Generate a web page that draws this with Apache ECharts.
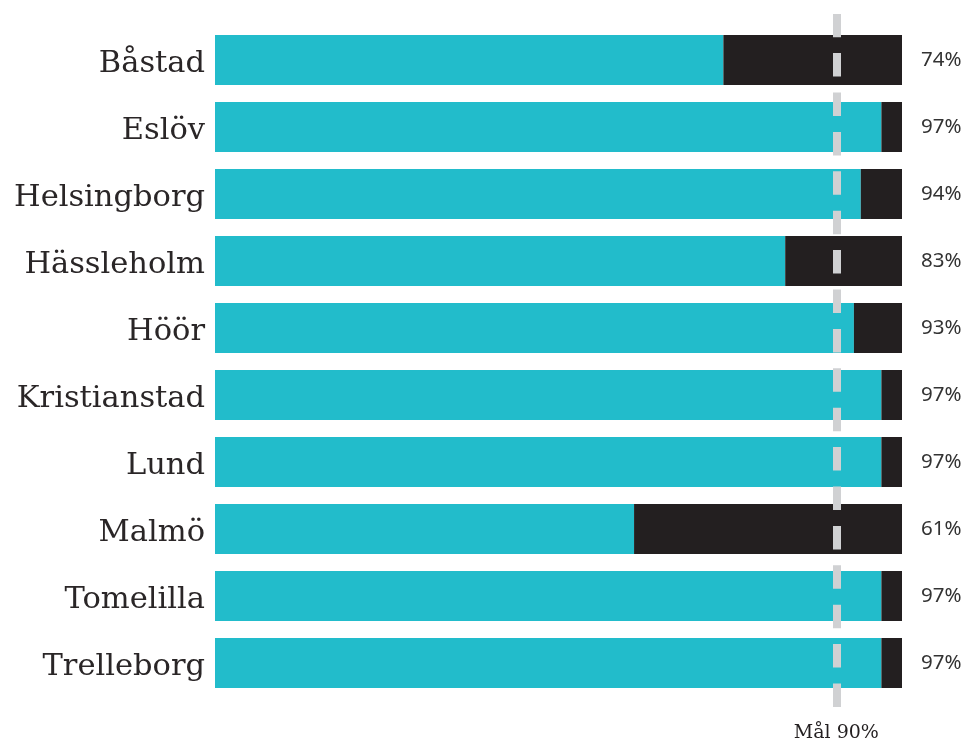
<!DOCTYPE html>
<html><head><meta charset="utf-8">
<script src="https://cdn.jsdelivr.net/npm/echarts@6/dist/echarts.min.js"></script>
<style>html,body{margin:0;padding:0;background:#fff}#c{width:967px;height:745px}</style>
</head><body><div id="c"></div>
<script>
const categories = ['Båstad','Eslöv','Helsingborg','Hässleholm','Höör','Kristianstad','Lund','Malmö','Tomelilla','Trelleborg'];
const values = [74, 97, 94, 83, 93, 97, 97, 61, 97, 97];
const target = 90;
const targetLabel = 'Mål 90%';

const remainder = values.map(v => 100 - v);
const chart = echarts.init(document.getElementById('c'), null, {renderer:'canvas'});
chart.setOption({
  animation: false,
  grid: [
    {left: 215, right: 65, top: 26.5, bottom: 48.5},
    {left: 218, right: 62, top: 14, bottom: 38}
  ],
  xAxis: [
    {gridIndex: 0, type: 'value', min: 0, max: 100, show: false},
    {gridIndex: 1, type: 'value', min: 0, max: 100, show: false}
  ],
  yAxis: [
    {gridIndex: 0, type: 'category', data: categories, inverse: true,
     axisLine: {show: false}, axisTick: {show: false}, splitLine: {show: false},
     axisLabel: {margin: 10, formatter: v => '{a|' + v + '}',
       rich: {a: {fontFamily: 'DejaVu Serif', fontSize: 30.5, color: '#2a2627', padding: [9, 0, 0, 0]}}}},
    {gridIndex: 1, type: 'value', min: 0, max: 1, show: false}
  ],
  series: [
    {type: 'bar', stack: 's', data: values, barWidth: 50, itemStyle: {color: '#22bccb'},
     xAxisIndex: 0, yAxisIndex: 0},
    {type: 'bar', stack: 's', data: remainder, barWidth: 50, itemStyle: {color: '#231f20'},
     xAxisIndex: 0, yAxisIndex: 0,
     label: {show: true, position: 'right', distance: 19, fontFamily: 'Noto Sans', fontSize: 20.5, color: '#333',
       padding: [4, 0, 0, 0],
       formatter: p => values[p.dataIndex] + '%'}},
    {type: 'scatter', xAxisIndex: 1, yAxisIndex: 1, data: [], silent: true,
     markLine: {symbol: 'none', silent: true, animation: false,
       lineStyle: {color: '#d0d1d3', width: 8, type: [23.5, 15.9], opacity: 1},
       label: {show: true, position: 'start', distance: 17, formatter: targetLabel,
         fontFamily: 'DejaVu Serif', fontSize: 19, color: '#231f20'},
       data: [{xAxis: target}]}}
  ]
});
</script></body></html>
